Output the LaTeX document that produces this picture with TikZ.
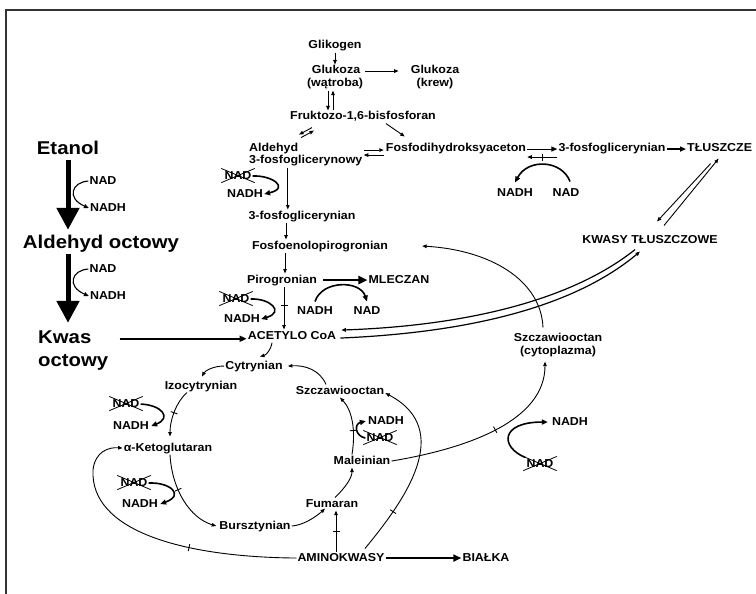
\documentclass[tikz,border=0pt]{standalone}
\usepackage{fontspec}
\newfontfamily\medfont{Liberation Sans}[FakeStretch=1.08]
\newfontfamily\bigfont{Liberation Sans}[FakeStretch=1.1]
\usetikzlibrary{arrows.meta,decorations.markings,calc}
\begin{document}
\begin{tikzpicture}[x=1pt,y=-1pt,
  lbl/.style={font=\medfont\bfseries\fontsize{11.5}{13}\selectfont, inner sep=1pt, text height=8.3pt, text depth=2.4pt, anchor=base},
  biglbl/.style={font=\bigfont\bfseries\fontsize{18.5}{20}\selectfont, inner sep=1pt, text height=13.5pt, text depth=4pt, anchor=base},
  xnad/.style={lbl},
  conn/.style={line width=0.9pt, -{Triangle[length=4.5pt,width=3.5pt]}},
  react/.style={line width=1.6pt, -{Triangle[length=6pt,width=5pt]}},
  sreact/.style={line width=1.1pt, -{Triangle[length=5pt,width=4pt]}},
  bigarrow/.style={line width=5pt, -{Triangle[length=22pt,width=22pt]}},
  blk/.style={postaction={decorate,decoration={markings,mark=at position #1 with {\draw[line width=0.9pt,-] (0,-3.5pt) -- (0,3.5pt);}}}}
]
\useasboundingbox (0,0) rectangle (756,594);
\draw[line width=1.5pt, black!80] (6,594) -- (6,10) -- (756,10);

% glycolysis column
\node[lbl] (glik) at (335,49) {Glikogen};
\node[lbl] (gluw) at (336,74) {Glukoza};
\node[lbl] (gluwb) at (335,87) {(wątroba)};
\node[lbl] (gluk) at (435,74) {Glukoza};
\node[lbl] (gluka) at (435,87) {(krew)};
\node[lbl] (fru) at (363,120) {Fruktozo-1,6-bisfosforan};
\node[lbl, anchor=base west] (ald1) at (248,151) {Aldehyd};
\node[lbl, anchor=base west] (ald2) at (248,164) {3-fosfoglicerynowy};
\node[lbl] (fdha) at (456,152) {Fosfodihydroksyaceton};
\node[lbl] (pg1) at (612,152) {3-fosfoglicerynian};
\node[lbl, anchor=base west] (tl) at (686,152) {TŁUSZCZE};
\node[lbl] (nadh1) at (515,196) {NADH};
\node[lbl] (nad1) at (566,196) {NAD};
\node[lbl] (kt) at (650,243) {KWASY TŁUSZCZOWE};
\node[xnad] (xnad1) at (238,179) {NAD};
\node[lbl] (xnadh1) at (245,197) {NADH};
\node[lbl] (pg2) at (302,219) {3-fosfoglicerynian};
\node[lbl] (pep) at (320,249) {Fosfoenolopirogronian};
\node[lbl] (pir) at (282,283) {Pirogronian};
\node[lbl] (mle) at (399,283) {MLECZAN};
\node[xnad] (xnad2) at (236,302) {NAD};
\node[lbl] (nadh2) at (242,322) {NADH};
\node[lbl] (nadh3) at (315,314) {NADH};
\node[lbl] (nad3) at (367,314) {NAD};
\node[lbl] (acoa) at (292,339) {ACETYLO CoA};

% ethanol
\node[biglbl] (etanol) at (68,154.5) {Etanol};
\node[lbl] (nadE1) at (103,184) {NAD};
\node[lbl] (nadhE1) at (108,211) {NADH};
\node[biglbl] (aldo) at (101,248.5) {Aldehyd octowy};
\node[lbl] (nadE2) at (103,272) {NAD};
\node[lbl] (nadhE2) at (108,299) {NADH};
\node[biglbl, anchor=base west] (kwas1) at (37,343.5) {Kwas};
\node[biglbl, anchor=base west] (kwas2) at (37,366.5) {octowy};

% cycle
\node[lbl] (szc1) at (558,341) {Szczawiooctan};
\node[lbl] (szc2) at (558,354) {(cytoplazma)};
\node[lbl] (cyt) at (254,369) {Cytrynian};
\node[lbl] (izo) at (201,389) {Izocytrynian};
\node[lbl] (szm) at (340,394) {Szczawiooctan};
\node[xnad] (xnad4) at (126,407) {NAD};
\node[lbl] (nadh4) at (131,429) {NADH};
\node[lbl] (nadh5) at (386,424) {NADH};
\node[xnad] (xnad5) at (380,441) {NAD};
\node[lbl] (nadh6) at (570,425) {NADH};
\node[xnad] (xnad6) at (540,467) {NAD};
\node[lbl] (akg) at (168,451) {α-Ketoglutaran};
\node[lbl] (mal) at (362,464) {Maleinian};
\node[xnad] (xnad7) at (134,486) {NAD};
\node[lbl] (nadh7) at (140,507) {NADH};
\node[lbl] (fum) at (332,507) {Fumaran};
\node[lbl] (bur) at (255,529) {Bursztynian};
\node[lbl] (amino) at (341,561) {AMINOKWASY};
\node[lbl] (bia) at (486,561) {BIAŁKA};

% crossed-out NAD
\foreach \n in {xnad1,xnad2,xnad4,xnad5,xnad6,xnad7}
  \draw[line width=0.8pt] ([shift={(-2,-1)}]\n.north west) -- ([shift={(2,0)}]\n.south east)
                          ([shift={(2,-1)}]\n.north east) -- ([shift={(-2,0)}]\n.south west);

% --- connectors: top
\draw[conn] (glik.south) -- (glik.south |- gluw.north);
\draw[conn, blk=0.5, shorten <=4pt, shorten >=11pt] (gluw.east) -- (gluk.west);
\draw[conn] ([xshift=-7pt]gluwb.south) -- ([xshift=-7pt]gluwb.south |- fru.north);
\draw[conn] ([xshift=-2pt]gluwb.south |- fru.north) -- ([xshift=-2pt]gluwb.south);
\draw[conn] ([shift={(-51,4)}]fru.south) -- ++(-13,7);
\draw[conn] ([shift={(-62,14)}]fru.south) -- ++(13,-7);
\draw[conn] ([xshift=23pt]fru.south) -- ([shift={(20,-6)}]fdha.north west);
\draw[conn] ([shift={(-21,1)}]fdha.west) -- ([shift={(-1,1)}]fdha.west);
\draw[conn] ([shift={(-1,6)}]fdha.west) -- ([shift={(-21,6)}]fdha.west);
\draw[line width=1.1pt, -{Triangle[length=6pt,width=5pt]}] (fdha.east) -- (pg1.west);
\draw[conn, blk=0.5] ([yshift=-8pt]pg1.west) -- ([yshift=-8pt]fdha.east);
\draw[line width=1.3pt, -{Triangle[length=6pt,width=5pt]}] (pg1.east) -- (tl.west);
\draw[react] ([shift={(4,-5)}]nad1.north) .. controls (562,160) and (528,158) .. ([shift={(0,-4)}]nadh1.north);
\draw[conn] ([shift={(-9,8)}]tl.south) -- ([shift={(7,-12)}]kt.north);
\draw[conn] ([shift={(14,-8)}]kt.north) -- ([shift={(-1,3)}]tl.south);

% glycolysis down
\draw[react] (xnad1.east) .. controls (272,175) and (290,188) .. (xnadh1.east);
\draw[conn] ([xshift=-18pt]ald2.south) -- ([xshift=-18pt]ald2.south |- pg2.north);
\draw[conn] ([xshift=-16pt]pg2.south) -- ([xshift=-16pt]pg2.south |- pep.north);
\draw[conn] ([xshift=3pt]pir.north |- pep.south) -- ([xshift=3pt]pir.north);
\draw[line width=2.5pt, -{Triangle[length=9pt,width=8pt]}, shorten <=5pt] (pir.east) -- (mle.west);
\draw[conn, blk=0.45] ([xshift=2pt]pir.south) -- ([xshift=2pt]pir.south |- acoa.north);
\draw[react] (xnad2.east) .. controls (270,298) and (285,312) .. (nadh2.east);
\draw[react] ([yshift=3pt]nadh3.north) .. controls (322,280) and (360,280) .. ([yshift=3pt]nad3.north);

% ethanol
\draw[bigarrow, shorten >=4pt] (etanol.south) -- (etanol.south |- aldo.north);
\draw[bigarrow, shorten >=6pt] (etanol.south |- aldo.south) -- (etanol.south |- kwas1.north);
\draw[sreact] (nadE1.west) .. controls (72,182) and (66,198) .. (nadhE1.west);
\draw[sreact] (nadE2.west) .. controls (72,270) and (66,286) .. (nadhE2.west);
\draw[line width=1.6pt, -{Triangle[length=7pt,width=6pt]}] ([xshift=27pt]kwas1.east) -- (kwas1.east -| acoa.west);

% acetyl CoA <-> fatty acids
\draw[conn, line width=1.2pt] ([shift={(3,2)}]acoa.east) .. controls (460,333) and (570,310) .. ([shift={(-10,5)}]kt.south);
\draw[conn, line width=1.2pt] ([shift={(-15,3)}]kt.south) .. controls (568,303) and (458,326) .. ([shift={(4,-6)}]acoa.east);
\draw[conn] ([shift={(-15,-4)}]szc1.north) .. controls (541,280) and (490,250) .. ([xshift=33pt]pep.east);
\draw[conn, blk=0.55] (mal.east) .. controls (470,448) and (545,420) .. ([shift={(-13,4)}]szc2.south);
\draw[react] (xnad6.north west) .. controls (500,447) and (500,422) .. ([xshift=-3pt]nadh6.west);

% cycle
\draw[conn] ([xshift=-20pt]acoa.south) .. controls (271,350) and (266,355) .. ([shift={(6,-3)}]cyt.north);
\draw[conn] ([xshift=-14pt]szm.north) .. controls (320,370) and (305,365) .. ([xshift=4pt]cyt.east);
\draw[conn, blk=0.4] ([xshift=-10pt]mal.north) .. controls (356,430) and (352,410) .. (szm.south);
\draw[react] (xnad5.west) .. controls (355,436) and (354,424) .. ([xshift=-1pt]nadh5.west);
\draw[conn] ([xshift=3pt]fum.north) .. controls (345,488) and (352,478) .. ([xshift=-10pt]mal.south);
\draw[conn] (bur.east) .. controls (305,525) and (318,515) .. ([shift={(-7,-2)}]fum.south);
\draw[conn, blk=0.5] ([xshift=-5pt]amino.north) -- ([xshift=-5pt]amino.north |- fum.south);
\draw[line width=1.8pt, -{Triangle[length=8pt,width=7pt]}] (amino.east) -- (bia.west);
\draw[conn, blk=0.25] ([shift={(24,-3)}]amino.north) .. controls (405,500) and (455,430) .. ([yshift=-2pt]szm.east);
\draw[conn] (cyt.west) .. controls (213,366) and (205,371) .. ([shift={(1,-3)}]izo.north);
\draw[conn, blk=0.5] ([xshift=-14pt]izo.south) .. controls (176,402) and (170,420) .. ([shift={(2,-5)}]akg.north);
\draw[react] (xnad4.east) .. controls (162,405) and (172,418) .. ([xshift=1pt]nadh4.east);
\draw[conn, blk=0.4] ([xshift=2pt]akg.south) .. controls (172,490) and (190,518) .. ([xshift=-2pt]bur.west);
\draw[react] (xnad7.east) .. controls (170,482) and (185,495) .. ([xshift=1pt]nadh7.east);
\draw[conn, blk=0.38] (amino.west) .. controls (180,557) and (90,530) .. (93,470) .. controls (95,452) and (108,447) .. (akg.west);
\end{tikzpicture}
\end{document}
